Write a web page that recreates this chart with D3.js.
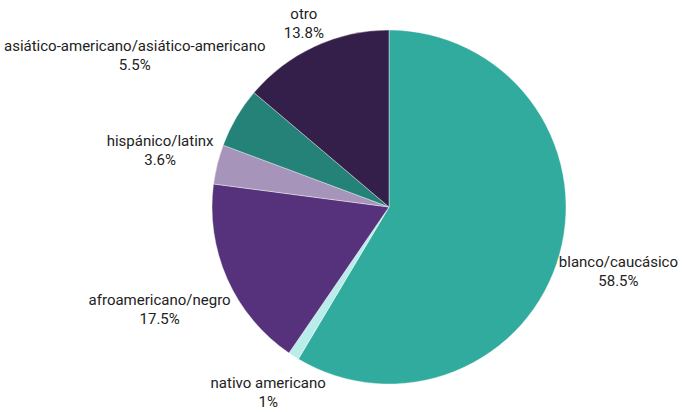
<!DOCTYPE html>
<html>
<head>
<meta charset="utf-8">
<script src="https://cdn.jsdelivr.net/npm/d3@7"></script>
<style>
  body { margin: 0; background: #fff; }
  svg text { font-family: Roboto, "Noto Sans", sans-serif; font-size: 15px; fill: #222; }
</style>
</head>
<body>
<svg id="chart"></svg>
<script>
var categories = ["blanco/caucásico", "nativo americano", "afroamericano/negro", "hispánico/latinx", "asiático-americano/asiático-americano", "otro"];
var values = [58.5, 1, 17.5, 3.6, 5.5, 13.8];
var valueLabels = ["58.5%", "1%", "17.5%", "3.6%", "5.5%", "13.8%"];
var colors = ["#32ab9f", "#b9ede9", "#55327b", "#a794bb", "#248279", "#341e4a"];

var svgWidth = 682, svgHeight = 412;
var cx = 389, cy = 207, radius = 177;

var svg = d3.select("#chart")
    .attr("width", svgWidth)
    .attr("height", svgHeight);
var g = svg.append("g")
    .attr("transform", "translate(" + cx + "," + cy + ")");

var data = categories.map(function(c, i) {
  return { name: c, value: values[i], label: valueLabels[i], color: colors[i] };
});

var pie = d3.pie()
    .sort(null)
    .value(function(d) { return d.value; });
var arc = d3.arc()
    .innerRadius(0)
    .outerRadius(radius);

var arcs = pie(data);

g.selectAll("path")
    .data(arcs)
    .enter().append("path")
    .attr("d", arc)
    .attr("fill", function(d) { return d.data.color; })
    .attr("stroke", "#fff")
    .attr("stroke-width", 0.4);

// labels: box centred on the slice's mid-angle ray, pushed out until it clears the pie
var gap = 3;
var lineH = 19;
var pad = 4;
arcs.forEach(function(d) {
  var a = (d.startAngle + d.endAngle) / 2;
  var s = Math.sin(a), c = -Math.cos(a);
  var t = g.append("text").attr("text-anchor", "middle");
  t.append("tspan").attr("x", 0).attr("dy", 0).text(d.data.name);
  t.append("tspan").attr("x", 0).attr("dy", lineH).text(d.data.label);
  var bb = t.node().getBBox();
  var w = bb.width, h = bb.height - 6;
  var k = Math.abs(s) * w / 2 + Math.abs(c) * h / 2;
  var dist = radius + gap + k;
  var px = cx + s * dist, py = cy + c * dist;
  // keep the box inside the picture
  px = Math.max(pad + w / 2, Math.min(svgWidth - pad - w / 2, px));
  py = Math.max(bb.height / 2 + 1, Math.min(svgHeight - bb.height / 2 - 1, py));
  var oy = bb.y + bb.height / 2;
  t.attr("transform", "translate(" + (px - cx) + "," + (py - cy - oy) + ")");
});
</script>
</body>
</html>
